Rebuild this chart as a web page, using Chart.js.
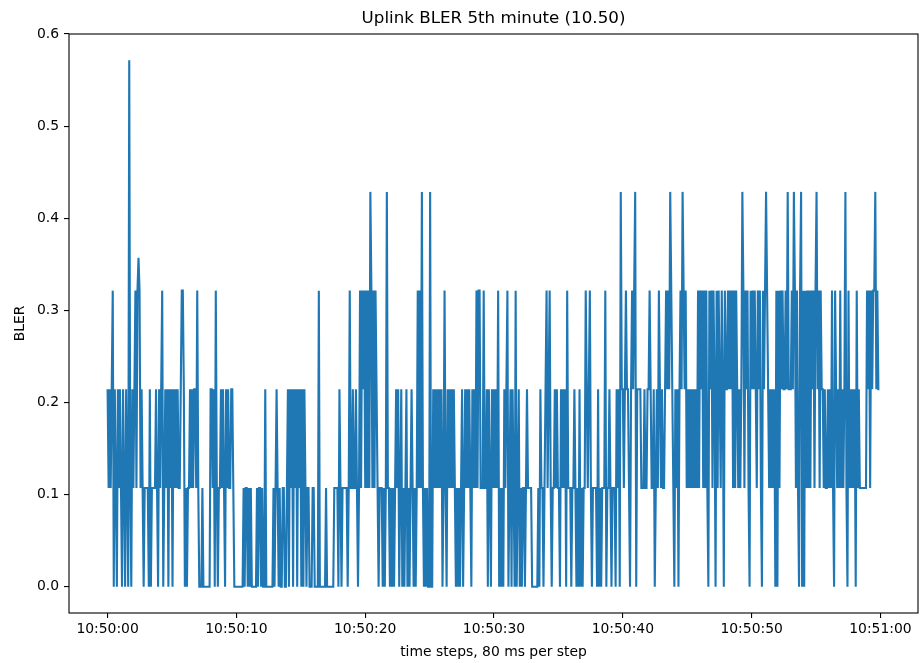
<!DOCTYPE html>
<html>
<head>
<meta charset="utf-8">
<script src="https://cdn.jsdelivr.net/npm/chart.js@4.4.0/dist/chart.umd.min.js"></script>
<style>
  html, body { margin: 0; padding: 0; background: #fff; }
  #wrap { width: 923px; height: 663px; }
</style>
</head>
<body>
<div id="wrap"><canvas id="c" width="923" height="663"></canvas></div>
<script>
// BLER levels seen in the plot (code digit -> value)
const levels = [0, 0.1071, 0.2143, 0.3214, 0.3571, 0.4286, 0.5714];

// one string per ~5 s block of 80 ms steps, each char is a level code
const blocks = [
  "2121230210" + "2121021021" + "0610212313" + "4312101111" + "0201111210" + "2123012120212",
  "0212121123" + "3201011212" + "1221310001" + "0000000221" + "2031011212" + "1021211221000",
  "000000" + "1011010100" + "0001011010" + "0200000001" + "0121010011" + "0012021202" + "1202120",
  "2021011000" + "1100003000" + "0001000000" + "0111102101" + "1111013112" + "1121013132313",
  "1315313132" + "1011101015" + "1101010121" + "2012010120" + "1012101013" + "1315101010050",
  "0212121212" + "0131021212" + "1210101012" + "0121212102" + "1213133111" + "3112021021212",
  "1301010212" + "3012021030" + "1201011012" + "1111000000" + "1021101231" + "2310112121102",
  "1212031110" + "1121010201" + "0113212310" + "1111020101" + "1130112101" + "1102120522123",
  "2210232350" + "2222111211" + "2232112012" + "1321211232" + "3253210212" + "0232532312121",
  "2121213132" + "3131310323" + "1320313213" + "2032232323" + "1313212125" + "3132310323232",
  "1323103235" + "3212121203" + "0313232232" + "5222325313" + "1035030313" + "1313231352313",
  "2212112121" + "3103212131" + "2125103121" + "2120312111" + "1111323132" + "3352322"
];

const stepSeconds = 0.08;
const xTicks = [0, 10, 20, 30, 40, 50, 60];
const xTickLabels = ["10:50:00", "10:50:10", "10:50:20", "10:50:30", "10:50:40", "10:50:50", "10:51:00"];
const yTicks = [0, 0.1, 0.2, 0.3, 0.4, 0.5, 0.6];

const codes = blocks.join("");
const points = [];
for (let i = 0; i < codes.length; i++) {
  points.push({ x: i * stepSeconds, y: levels[+codes[i]] });
}

const font = "'DejaVu Sans', sans-serif";

const frameAndText = {
  id: 'frameAndText',
  afterDraw(chart) {
    const { ctx, chartArea: a } = chart;
    ctx.save();
    ctx.strokeStyle = '#000';
    ctx.lineWidth = 1.1;
    ctx.strokeRect(a.left, a.top, a.right - a.left, a.bottom - a.top);
    ctx.fillStyle = '#000';
    ctx.textAlign = 'center';
    ctx.textBaseline = 'middle';
    const cx = (a.left + a.right) / 2;
    ctx.font = "16.7px " + font;
    ctx.fillText("Uplink BLER 5th minute (10.50)", cx, 19);
    ctx.font = "13.9px " + font;
    ctx.fillText("time steps, 80 ms per step", cx, 652);
    ctx.translate(20, (a.top + a.bottom) / 2);
    ctx.rotate(-Math.PI / 2);
    ctx.fillText("BLER", 0, 0);
    ctx.restore();
  }
};

new Chart(document.getElementById('c'), {
  type: 'line',
  data: {
    datasets: [{
      data: points,
      borderColor: '#1f77b4',
      borderWidth: 2.1,
      pointRadius: 0,
      tension: 0,
      fill: false
    }]
  },
  options: {
    responsive: false,
    animation: false,
    layout: { padding: { left: 0, right: 5, top: 34, bottom: 0 } },
    plugins: { legend: { display: false }, tooltip: { enabled: false }, title: { display: false } },
    scales: {
      x: {
        type: 'linear',
        min: -2.996,
        max: 62.916,
        afterFit(s) { s.height = 50; },
        afterBuildTicks(s) { s.ticks = xTicks.map(v => ({ value: v })); },
        border: { display: false },
        grid: { display: true, drawOnChartArea: false, drawTicks: true, tickLength: 5, color: '#000', lineWidth: 1.1 },
        ticks: {
          color: '#000', padding: 3, maxRotation: 0,
          font: { family: font, size: 13.9 },
          callback: (v) => xTickLabels[xTicks.indexOf(v)]
        }
      },
      y: {
        min: -0.02857,
        max: 0.6,
        afterFit(s) { s.width = 69; },
        afterBuildTicks(s) { s.ticks = yTicks.map(v => ({ value: v })); },
        border: { display: false },
        grid: { display: true, drawOnChartArea: false, drawTicks: true, tickLength: 5, color: '#000', lineWidth: 1.1 },
        ticks: {
          color: '#000', padding: 5,
          font: { family: font, size: 13.9 },
          callback: (v) => v.toFixed(1)
        }
      }
    }
  },
  plugins: [frameAndText]
});
</script>
</body>
</html>
